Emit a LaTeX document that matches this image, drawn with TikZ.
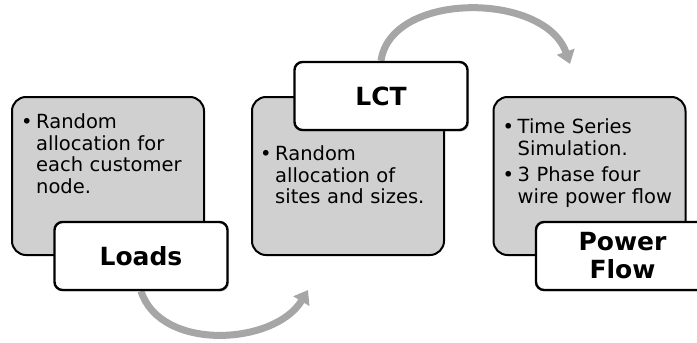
\documentclass[tikz,border=0pt]{standalone}
\usepackage{fontspec}
\setmainfont{DejaVu Sans}
\usetikzlibrary{arrows.meta,shadows,backgrounds}
\definecolor{panelgray}{HTML}{D0D0D0}
\definecolor{cyclegray}{HTML}{A6A6A6}
\newcommand{\bitem}{\par\hangindent=15pt\hangafter=1\noindent\makebox[15pt][l]{\textbullet}}

\begin{document}
\begin{tikzpicture}[x=1pt,y=-1pt,
    notebox/.style={draw=black,line width=2pt,fill=panelgray,rounded corners=14pt,
      minimum width=192pt,minimum height=158pt},
    notetext/.style={anchor=north west,inner sep=0pt,text width=178pt,align=left,
      font=\fontsize{19.5}{21.5}\selectfont},
    headbox/.style={draw=black,line width=2.4pt,fill=white,rounded corners=8pt,
      minimum width=173pt,minimum height=68pt,align=center,
      font=\fontsize{25}{28}\selectfont\bfseries,
      drop shadow={shadow xshift=1.5pt,shadow yshift=-1.5pt,opacity=0.3}},
    cyclearrow/.style={cyclegray,line width=7pt,-{Triangle[length=13pt,width=18pt]}}]
  \useasboundingbox (0,0) rectangle (697,343);
  \clip (0,0) rectangle (697,343);
  % gray panels
  \node[notebox] (loadsbg) at (108,176) {};
  \node[notebox] (lctbg) at (348,176) {};
  \node[notebox] (flowbg) at (589.5,176) {};
  % titles
  \node[headbox,xshift=33pt] (loads) at (loadsbg.south) {Loads};
  \node[headbox,xshift=33pt] (lct) at (lctbg.north) {LCT};
  \node[headbox,xshift=33pt] (flow) at (flowbg.south) {Power\\Flow};
  % bullet texts
  \node[notetext,xshift=10pt,yshift=-11pt] (loadstxt) at (loadsbg.north west)
    {\bitem Random\newline allocation for\newline each customer\newline node.\par};
  \node[notetext,xshift=9pt,yshift=-8pt] (lcttxt) at (lctbg.north west |- lct.south)
    {\bitem Random\newline allocation of\newline sites and sizes.\par};
  \node[notetext,xshift=10pt,yshift=-11pt] (flowtxt) at (flowbg.north west)
    {\setlength\parskip{5pt}\bitem Time Series\newline Simulation.
     \bitem 3 Phase four\newline wire power flow\par};
  % cycle arrows
  \coordinate (lctfoot) at (308,290);
  \coordinate (flowtop) at (570,64);
  \begin{scope}[on background layer]
    \draw[cyclearrow] (loads.south) .. controls +(20,61) and +(-33,55) .. (lctfoot);
    \draw[cyclearrow] (lct.north) .. controls +(10,-70) and +(-25,-72) .. (flowtop);
  \end{scope}
\end{tikzpicture}
\end{document}
